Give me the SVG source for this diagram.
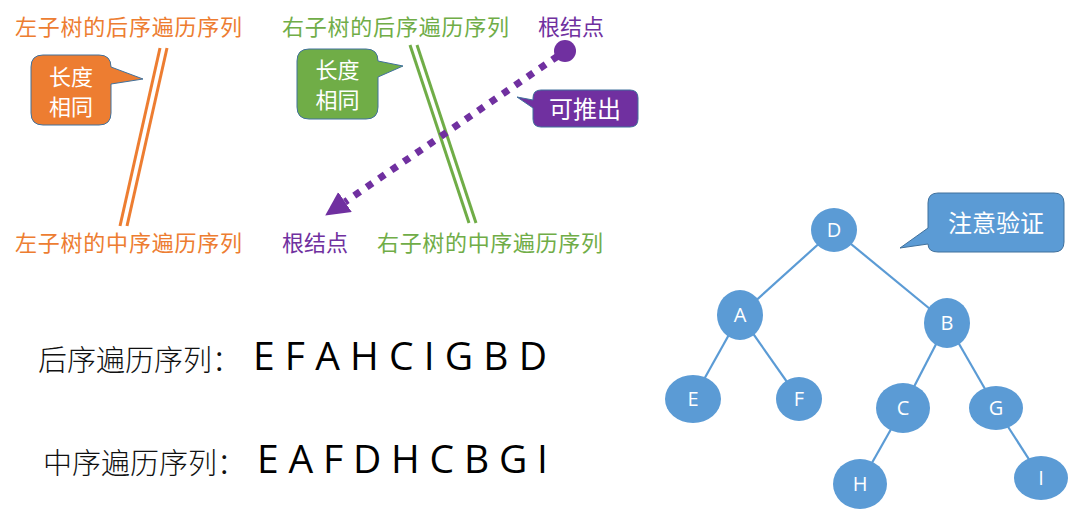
<svg xmlns="http://www.w3.org/2000/svg" width="1081" height="521" viewBox="0 0 1081 521">
<style>
.cjk{font-family:"Noto Sans CJK SC","Noto Sans",sans-serif}
.or{fill:#ED7D31}.gr{fill:#70AD47}.pu{fill:#7030A0}
.lbl{font-size:22px}
.cw{fill:#fff;font-size:22px;text-anchor:middle}
.call{stroke:#41719C;stroke-width:1}
.edge{stroke:#5B9BD5;stroke-width:2.2;fill:none}
.nd{fill:#5B9BD5}
.nt{fill:#fff;font-family:"Open Sans","Liberation Sans",sans-serif;font-size:20px;text-anchor:middle}
.seq{font-family:"Open Sans","Liberation Sans",sans-serif;font-size:39px;fill:#000}
.zh{font-family:"Noto Sans CJK SC",serif;font-size:29px;fill:#111;font-weight:300}
</style>
<defs>
<marker id="ah" markerUnits="userSpaceOnUse" markerWidth="30" markerHeight="30" refX="0" refY="12" orient="auto">
<path d="M0,0 L24,12 L0,24 Z" fill="#7030A0"/>
</marker>
</defs>
<rect width="1081" height="521" fill="#fff"/>

<g id="labels">
<text class="cjk lbl or" x="15" y="35" textLength="227">左子树的后序遍历序列</text>
<text class="cjk lbl or" x="15" y="251" textLength="227">左子树的中序遍历序列</text>
<text class="cjk lbl gr" x="282" y="35" textLength="227">右子树的后序遍历序列</text>
<text class="cjk lbl gr" x="377" y="251" textLength="226">右子树的中序遍历序列</text>
<text class="cjk lbl pu" x="538" y="35" textLength="66">根结点</text>
<text class="cjk lbl pu" x="282" y="251" textLength="66">根结点</text>
</g>

<g id="connectors">
<line x1="160" y1="48" x2="120" y2="226" stroke="#ED7D31" stroke-width="3"/>
<line x1="167" y1="48" x2="127" y2="226" stroke="#ED7D31" stroke-width="3"/>
<line x1="410" y1="45" x2="469" y2="223" stroke="#70AD47" stroke-width="3"/>
<line x1="417" y1="45" x2="476" y2="223" stroke="#70AD47" stroke-width="3"/>
<line x1="558" y1="56" x2="345" y2="202" stroke="#7030A0" stroke-width="7" stroke-dasharray="7 8" marker-end="url(#ah)"/>
<line class="edge" x1="834" y1="230" x2="740" y2="315"/>
<line class="edge" x1="834" y1="230" x2="947" y2="323"/>
<line class="edge" x1="740" y1="315" x2="693" y2="399"/>
<line class="edge" x1="740" y1="315" x2="799" y2="399"/>
<line class="edge" x1="947" y1="323" x2="903" y2="408"/>
<line class="edge" x1="947" y1="323" x2="996" y2="408"/>
<line class="edge" x1="903" y1="408" x2="860" y2="484"/>
<line class="edge" x1="996" y1="408" x2="1041" y2="478"/>
</g>

<g id="root-dot"><circle cx="565" cy="51" r="11" fill="#7030A0"/></g>

<g id="callout-orange">
<path class="call" fill="#ED7D31" d="M43,55 H99 Q111,55 111,67 L143,79 L111,84 V113 Q111,125 99,125 H43 Q31,125 31,113 V67 Q31,55 43,55 Z"/>
<text class="cjk cw" x="71" y="85">长度</text>
<text class="cjk cw" x="71" y="115">相同</text>
</g>
<g id="callout-green">
<path class="call" fill="#70AD47" d="M309,49 H366 Q378,49 378,61 L403,66 L378,77 V107 Q378,119 366,119 H309 Q297,119 297,107 V61 Q297,49 309,49 Z"/>
<text class="cjk cw" x="337.5" y="78">长度</text>
<text class="cjk cw" x="337.5" y="108">相同</text>
</g>
<g id="callout-purple">
<path class="call" fill="#7030A0" d="M541,90 H630 Q638,90 638,98 V119 Q638,127 630,127 H541 Q533,127 533,119 V108 L517,97 L533,100 V98 Q533,90 541,90 Z"/>
<text class="cjk cw" x="585" y="118" style="font-size:24px">可推出</text>
</g>
<g id="callout-blue">
<path class="call" fill="#5B9BD5" d="M938,193 H1054 Q1064,193 1064,203 V242 Q1064,252 1054,252 H938 Q928,252 928,244 L900,248 L928,228 V203 Q928,193 938,193 Z"/>
<text class="cjk cw" x="996" y="232" style="font-size:24px">注意验证</text>
</g>

<g id="node-D"><ellipse class="nd" cx="834" cy="230" rx="23" ry="22"/><text class="nt" x="834" y="237">D</text></g>
<g id="node-A"><ellipse class="nd" cx="740" cy="315" rx="23" ry="25"/><text class="nt" x="740" y="322">A</text></g>
<g id="node-B"><ellipse class="nd" cx="947" cy="323" rx="23" ry="25"/><text class="nt" x="947" y="330">B</text></g>
<g id="node-E"><ellipse class="nd" cx="693" cy="399" rx="28" ry="24"/><text class="nt" x="693" y="406">E</text></g>
<g id="node-F"><ellipse class="nd" cx="799" cy="399" rx="23" ry="22"/><text class="nt" x="799" y="406">F</text></g>
<g id="node-C"><ellipse class="nd" cx="903" cy="408" rx="27" ry="25"/><text class="nt" x="903" y="415">C</text></g>
<g id="node-G"><ellipse class="nd" cx="996" cy="408" rx="27" ry="22"/><text class="nt" x="996" y="415">G</text></g>
<g id="node-H"><ellipse class="nd" cx="860" cy="484" rx="27" ry="25"/><text class="nt" x="860" y="491">H</text></g>
<g id="node-I"><ellipse class="nd" cx="1041" cy="478" rx="27" ry="22"/><text class="nt" x="1041" y="485">I</text></g>

<g id="sequences">
<text class="zh" x="38" y="371">后序遍历序列：</text>
<text class="seq" x="253" y="370" textLength="294" lengthAdjust="spacing">E F A H C I G B D</text>
<text class="zh" x="43" y="474">中序遍历序列：</text>
<text class="seq" x="257" y="473" textLength="291" lengthAdjust="spacing">E A F D H C B G I</text>
</g>
</svg>
